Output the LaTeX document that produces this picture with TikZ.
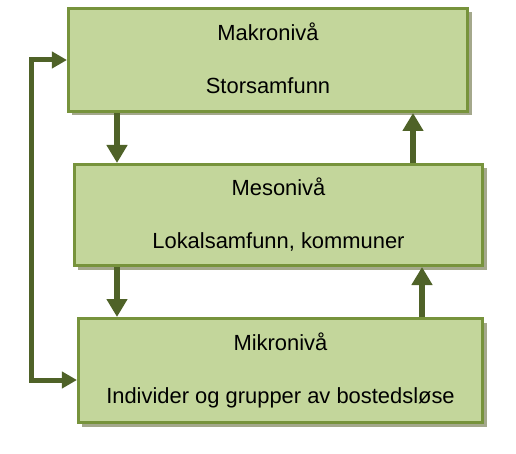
\documentclass[tikz,border=0pt]{standalone}
\usepackage{fontspec}
\setmainfont{Liberation Sans}
\usepackage{tikz}
\usetikzlibrary{arrows.meta,shadows}
\definecolor{boksfyll}{HTML}{C3D69B}
\definecolor{boksrand}{HTML}{77933C}
\definecolor{pilfarge}{HTML}{4F6228}
\definecolor{skygge}{HTML}{A4A88C}
\tikzset{
	niva/.style={draw=boksrand, line width=3bp, fill=boksfyll, align=center,
		font=\fontsize{22}{25}\selectfont,
		drop shadow={shadow xshift=4bp, shadow yshift=-4bp, fill=skygge, opacity=1}},
	pil/.style={draw=pilfarge, line width=6.5bp, -{Triangle[width=20bp,length=18bp]}},
	looppil/.style={draw=pilfarge, line width=5bp, line join=miter,
		{Triangle[width=16bp,length=15bp]}-{Triangle[width=16bp,length=15bp]}}
}

\begin{document}
\begin{tikzpicture}[x=1bp, y=-1bp]
		%%%%% START %%%%%
		\useasboundingbox (0, 0) rectangle (516, 454);
		
		\node[niva, minimum width=399bp, minimum height=103bp] (makro) at (268, 60)
			{Makronivå\\[28bp]Storsamfunn\vphantom{g}};
		\node[niva, minimum width=408bp, minimum height=101bp] (meso) at (278.5, 215)
			{Mesonivå\\[28bp]Lokalsamfunn, kommuner\vphantom{g}};
		\node[niva, minimum width=404bp, minimum height=104bp] (mikro) at (280.5, 370.5)
			{Mikronivå\\[28bp]Individer og grupper av bostedsløse};
		
		\coordinate (ned) at (117, 0);
		\coordinate (opp1) at (413, 0);
		\coordinate (opp2) at (422, 0);
		\coordinate (hjorne) at (31, 380);
		
		\draw[pil] (makro.south -| ned) -- (meso.north -| ned);
		\draw[pil] (meso.north -| opp1) -- (makro.south -| opp1);
		\draw[pil] (meso.south -| ned) -- (mikro.north -| ned);
		\draw[pil] (mikro.north -| opp2) -- (meso.south -| opp2);
		
		\draw[looppil] (makro.west) -| (hjorne) -- (hjorne -| mikro.west);
		%%%%% END %%%%%
\end{tikzpicture}
\end{document}
